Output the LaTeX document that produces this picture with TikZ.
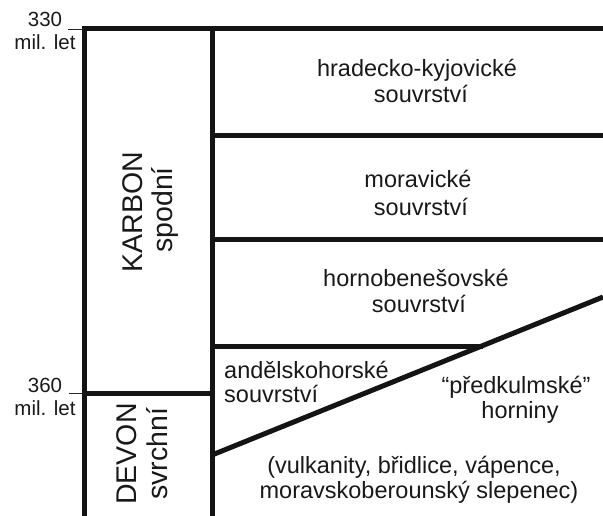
\documentclass[tikz,border=0pt]{standalone}
\usepackage{fontspec}
\setmainfont{Liberation Sans}
\begin{document}
\begin{tikzpicture}[x=1pt,y=-1pt,
  rule/.style={line width=5pt,color=black!92},
  tick/.style={line width=0.9pt,color=black!85},
  body/.style={font=\fontsize{23.5}{26}\selectfont,text=black!90,inner sep=0pt,anchor=base},
  agelabel/.style={font=\fontsize{20.5}{24}\selectfont,text=black!90,inner sep=0pt,anchor=base},
  period/.style={font=\fontsize{28.5}{32}\selectfont,text=black!90,inner sep=0pt,anchor=base,rotate=90}]
\useasboundingbox (0,0) rectangle (603,516);

% grid corners
\coordinate (tl) at (84,29);
\coordinate (tm) at (212,29);
\coordinate (tr) at (603,29);
\coordinate (bl) at (84,516);
\coordinate (bm) at (212,516);
\coordinate (r1l) at (212,136);
\coordinate (r1r) at (603,136);
\coordinate (r2l) at (212,240);
\coordinate (r2r) at (603,240);
\coordinate (r3l) at (212,346);
\coordinate (r3r) at (483,346);
\coordinate (dvl) at (84,393);
\coordinate (dvr) at (212,393);
\coordinate (dgl) at (212,455);
\coordinate (dgr) at (603,297);
\coordinate (t330) at (68,29);
\coordinate (t360) at (69,393);

% frame and layer boundaries
\draw[rule,line join=miter] (bl) -- (tl) -- (tr);
\draw[rule] (tm) -- (bm);
\draw[rule] (r1l) -- (r1r);
\draw[rule] (r2l) -- (r2r);
\draw[rule] (r3l) -- (r3r);
\draw[rule] (dvl) -- (dvr);
\draw[rule] (dgl) -- (dgr);

% age ticks
\draw[tick] (t330) -- (tl);
\draw[tick] (t360) -- (dvl);

% age labels
\node[agelabel] (a330) at (45,27) {330};
\node[agelabel] (m330) at (45,50) {mil. let};
\node[agelabel] (a360) at (45,392) {360};
\node[agelabel] (m360) at (45,415) {mil. let};

% periods
\node[period] (karbon) at (142,212) {KARBON};
\node[period] (spodni) at (172,210) {spodní};
\node[period] (devon) at (136,454) {DEVON};
\node[period] (svrchni) at (167,454) {svrchní};

% formations
\node[body] (hk1) at (417,77) {hradecko-kyjovické};
\node[body] (hk2) at (421,103) {souvrství};
\node[body] (mo1) at (418,188) {moravické};
\node[body] (mo2) at (421,215) {souvrství};
\node[body] (hb1) at (416,287) {hornobenešovské};
\node[body] (hb2) at (419,312) {souvrství};
\node[body,anchor=base west] (an1) at (224,378) {andělskohorské};
\node[body,anchor=base west] (an2) at (224,402) {souvrství};
\node[body] (pk1) at (516,393) {“předkulmské”};
\node[body] (pk2) at (520,418) {horniny};
\node[body] (vu1) at (414,473) {(vulkanity, břidlice, vápence,};
\node[body] (vu2) at (419,498) {moravskoberounský slepenec)};
\end{tikzpicture}
\end{document}
